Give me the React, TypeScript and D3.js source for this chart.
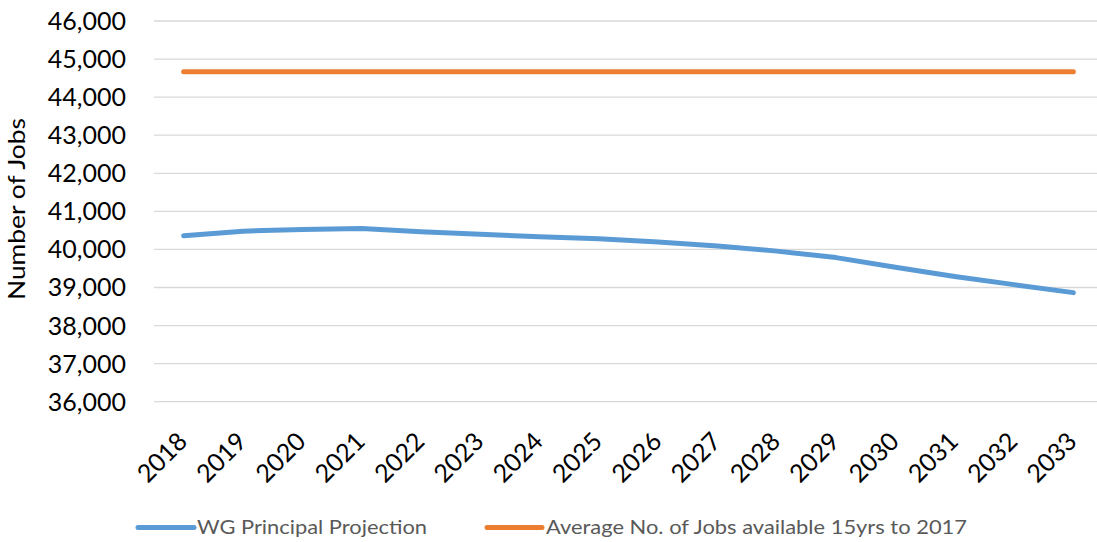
import React from "react";
import * as d3 from "d3";

const years = ["2018","2019","2020","2021","2022","2023","2024","2025","2026","2027","2028","2029","2030","2031","2032","2033"];
const projection = [40360,40480,40525,40550,40465,40400,40330,40280,40195,40090,39955,39785,39530,39290,39075,38865];
const average = [44670,44670,44670,44670,44670,44670,44670,44670,44670,44670,44670,44670,44670,44670,44670,44670];
const yTicks = [36000,37000,38000,39000,40000,41000,42000,43000,44000,45000,46000];
const seriesNames = ["WG Principal Projection", "Average No. of Jobs available 15yrs to 2017"];
const seriesColors = ["#5b9bd5", "#ed7d31"];

const W = 1097, H = 542;
const FONT = "Lato, 'Open Sans', sans-serif";

export default function App() {
  const x = d3.scaleBand<string>().domain(years).range([154, 1103]).padding(0);
  const cx = (yr: string) => (x(yr) as number) + x.bandwidth() / 2;
  const y = d3.scaleLinear().domain([36000, 46000]).range([401.7, 21]);
  const fmt = d3.format(",");
  const line = d3.line<number>().x((_, i) => cx(years[i])).y(v => y(v));

  const legend = [
    { name: seriesNames[0], color: seriesColors[0], x0: 138, x1: 194, tx: 197, tl: 230 },
    { name: seriesNames[1], color: seriesColors[1], x0: 487, x1: 542, tx: 546, tl: 421 },
  ];

  return (
    <div style={{ position: "absolute", left: 0, top: 0 }}>
      <svg width={W} height={H} style={{ display: "block", background: "#fff" }}>
        <rect width={W} height={H} fill="#fff" />
        {yTicks.map(t => (
          <g key={t}>
            <line x1={154} x2={1103} y1={y(t)} y2={y(t)} stroke="#d9d9d9" strokeWidth={1.3} />
            <text x={126} y={y(t) + 9} textAnchor="end" fontFamily={FONT} fontSize={25} fill="#000">{fmt(t)}</text>
          </g>
        ))}
        {years.map(yr => (
          <text key={yr} transform={`translate(${cx(yr) + 5},443) rotate(-45)`} textAnchor="end"
            fontFamily={FONT} fontSize={25} fill="#000">{yr}</text>
        ))}
        <text transform="translate(25,209) rotate(-90)" textAnchor="middle" fontFamily={FONT} fontSize={23} fill="#000"
          textLength={182} lengthAdjust="spacingAndGlyphs">Number of Jobs</text>
        <path d={line(projection) || ""} fill="none" stroke={seriesColors[0]} strokeWidth={5} strokeLinecap="round" strokeLinejoin="round" />
        <path d={line(average) || ""} fill="none" stroke={seriesColors[1]} strokeWidth={5} strokeLinecap="round" strokeLinejoin="round" />
        {legend.map(l => (
          <g key={l.name}>
            <line x1={l.x0} x2={l.x1} y1={527.5} y2={527.5} stroke={l.color} strokeWidth={5} strokeLinecap="round" />
            <text x={l.tx} y={534.3} fontFamily={FONT} fontSize={19} fill="#595959" textLength={l.tl} lengthAdjust="spacingAndGlyphs">{l.name}</text>
          </g>
        ))}
      </svg>
    </div>
  );
}
